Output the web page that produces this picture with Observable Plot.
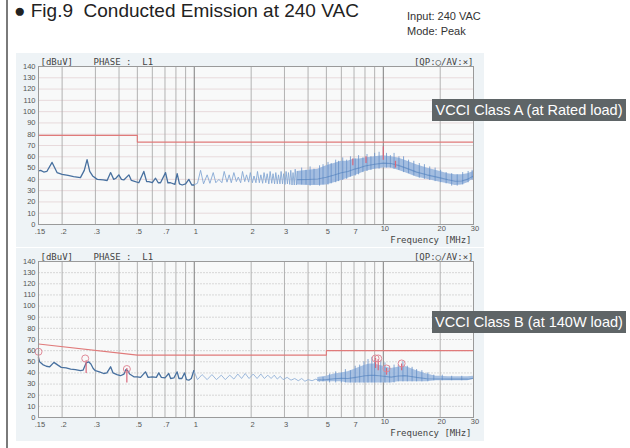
<!DOCTYPE html>
<html><head><meta charset="utf-8">
<script src="https://cdn.jsdelivr.net/npm/d3@7"></script>
<script src="https://cdn.jsdelivr.net/npm/@observablehq/plot@0.6"></script>
<style>
body{margin:0;background:#fff;}
#page{position:relative;width:630px;height:448px;overflow:hidden;font-family:"Liberation Sans",Arial,sans-serif;background:#fff;}
.abs{position:absolute;}
#border{left:6px;top:0;width:2px;height:448px;background:#7a7a7a;}
#title{left:14px;top:0px;font-size:19px;line-height:22px;color:#222;white-space:nowrap;}
#info{left:407px;top:9px;font-size:11px;line-height:15px;color:#333;}
.tag{background:#5f6567;color:#fff;font-size:14.5px;height:22px;line-height:22px;width:194px;text-align:center;left:432px;white-space:nowrap;}
</style></head><body>
<div id="page">
  <div id="border" class="abs"></div>
  <div id="title" class="abs">● Fig.9&nbsp; Conducted Emission at 240 VAC</div>
  <div id="info" class="abs">Input: 240 VAC<br>Mode: Peak</div>
  <div id="panelA" class="abs" style="left:16px;top:53px;"></div>
  <div id="panelB" class="abs" style="left:16px;top:248px;"></div>
  <div class="abs tag" style="top:99px;">VCCI Class A (at Rated load)</div>
  <div class="abs tag" style="top:311px;">VCCI Class B (at 140W load)</div>
</div>
<script>
// ---- axes ----
const xTicks = [0.15, 0.2, 0.3, 0.5, 0.7, 1, 2, 3, 5, 7, 10, 20, 30];
const xTickLabels = [".15", ".2", ".3", ".5", ".7", "1", "2", "3", "5", "7", "10", "20", "30"];
const yTicks = [0, 10, 20, 30, 40, 50, 60, 70, 80, 90, 100, 110, 120, 130, 140];
const hGrid = [10, 20, 30, 40, 50, 60, 70, 80, 90, 100, 110, 120, 130];
const vGrid = [0.2, 0.3, 0.4, 0.5, 0.6, 0.7, 0.8, 0.9, 2, 3, 4, 5, 6, 7, 8, 9, 20, 30];
const vGridMajor = [1, 10];

// ---- limits [MHz, dBuV] ----
const limitA = [[0.15, 79], [0.5, 79], [0.5, 73], [30, 73]];
const limitB = [[0.15, 66], [0.5, 56], [5, 56], [5, 60], [30, 60]];

// ---- panel A trace (Class A, rated load) ----
const traceA_low = [[0.150,47.5],[0.154,48],[0.160,46.5],[0.166,47],[0.177,55],[0.188,46],[0.200,44.5],[0.215,43.5],[0.230,42.5],[0.250,41.5],[0.262,48],[0.271,57.5],[0.280,47],[0.290,43],[0.307,40],[0.330,39.5],[0.346,39],[0.361,46],[0.375,40],[0.385,41],[0.399,44],[0.412,40],[0.424,39.5],[0.451,44],[0.465,39],[0.479,38.5],[0.509,37],[0.541,47],[0.560,38],[0.575,38],[0.600,37],[0.624,41],[0.645,37],[0.663,37],[0.705,46],[0.725,37],[0.749,37],[0.790,35.5],[0.812,45],[0.835,36],[0.863,35],[0.900,36],[0.936,40],[0.970,35],[0.994,35]];
const traceA_comb = [[0.994,35],[1.04,36.5],[1.08,48],[1.12,36],[1.17,44],[1.21,36.5],[1.26,46],[1.30,37],[1.35,40],[1.40,37],[1.44,47],[1.49,37.5],[1.53,44],[1.57,37],[1.62,46],[1.67,38],[1.71,42],[1.76,37],[1.80,47],[1.85,38],[1.89,44],[1.94,37.5],[1.98,46],[2.03,37],[2.07,43],[2.12,37],[2.16,47],[2.21,37],[2.25,44],[2.30,36.5],[2.34,46],[2.39,37],[2.43,45],[2.48,36],[2.52,47],[2.57,36.5],[2.61,45],[2.66,36],[2.70,46],[2.75,36],[2.79,44],[2.84,36],[2.88,47],[2.93,36],[2.97,45],[3.02,35.5],[3.06,47],[3.11,36],[3.15,46],[3.20,35.5],[3.24,48],[3.29,35],[3.33,46],[3.38,35],[3.42,49],[3.47,35],[3.51,47]];
const bandA_freq = [3.5, 4, 4.5, 5, 5.5, 6, 6.5, 7, 7.5, 8, 9, 10, 11, 12, 13, 15, 17, 20, 22, 24, 26, 28, 30];
const bandA_hi   = [47, 48, 49, 52, 54, 56, 56, 58, 58, 59, 60, 61, 60, 59, 57, 53, 50, 47, 45, 44, 44, 45, 47];
const bandA_lo   = [35, 34.5, 34.5, 35, 37, 39, 41, 43, 45, 47, 49, 50, 50, 48, 46, 42, 40, 37.5, 36, 34.5, 35, 37, 40.5];
const spikesA = [[3.7,35,50],[3.9,35,48],[4.1,34,51],[4.3,35,49],[4.6,34,52],[4.8,35,53],[5.1,35,55],[5.3,36,54],[5.6,37,57],[5.8,38,56],[6.1,39,59],[6.4,40,57],[6.7,42,60],[7.1,43,58],[7.4,44,61],[7.8,46,59],[8.2,47,62],[8.6,48,60],[9.0,49,63],[9.5,49,64],[10.4,50,63],[10.9,50,61],[11.4,49,63],[12.1,48,60],[12.8,46,60],[13.6,45,57],[14.5,43,56],[15.5,41,54],[16.5,40,53],[17.6,39,51],[18.8,38,50],[20.1,37,48],[21.5,36,46],[23.0,34,45],[24.6,34,44],[26.3,35,46],[28.1,37,47],[29.5,39,48]];
const marksA = [[6.9, 52, 58], [8.1, 54, 60], [10.0, 57, 69], [11.6, 50, 56]];

// ---- panel B trace (Class B, 140W load) ----
const traceB_low = [[0.150,54],[0.152,50],[0.158,47.5],[0.165,46],[0.172,45.5],[0.181,49.5],[0.190,47],[0.198,45],[0.210,44.5],[0.222,43.5],[0.235,43],[0.250,42],[0.258,42.5],[0.268,49],[0.276,50],[0.284,48],[0.292,44],[0.300,42],[0.315,41],[0.332,39.5],[0.345,40],[0.361,45.5],[0.372,40],[0.390,38.5],[0.407,37.5],[0.425,39],[0.435,43],[0.445,42],[0.455,39],[0.479,36.5],[0.500,36.5],[0.520,36],[0.552,41],[0.570,36],[0.600,36.5],[0.630,36],[0.649,40],[0.670,36],[0.700,35.5],[0.733,39.5],[0.750,35],[0.780,35.5],[0.812,41],[0.830,35],[0.860,35],[0.888,40],[0.910,34],[0.936,33.5],[0.965,35],[0.994,42]];
const traceB_ripple = [[0.994,42],[1.04,34],[1.10,38.5],[1.17,34],[1.24,38.5],[1.31,34],[1.39,38],[1.46,34],[1.54,38],[1.62,34.5],[1.70,39],[1.78,35],[1.86,39.5],[1.95,35],[2.05,39],[2.15,35],[2.25,39],[2.35,35],[2.45,38],[2.55,35],[2.65,38],[2.75,34.5],[2.85,37],[2.95,34],[3.10,36],[3.25,33.5],[3.40,35],[3.55,33],[3.70,35],[3.85,32.5],[4.00,34],[4.20,33],[4.40,34.5],[4.60,32.5],[4.80,35]];
const bandB_freq = [4.5, 5, 5.5, 6, 6.5, 7, 7.5, 8, 8.5, 9, 9.5, 10, 11, 12, 13, 14, 15, 17, 19, 20, 22, 25, 28, 30];
const bandB_hi   = [36, 37, 39, 40, 41, 43, 45, 47, 48, 48, 47, 46, 44, 45, 46, 44, 42, 39, 37, 37, 36.5, 36.5, 36.5, 37];
const bandB_lo   = [32, 32, 32, 32, 31, 31, 31, 31, 31, 31, 31, 31, 31, 32, 32, 32, 32, 32, 33, 33, 33, 33, 33, 34];
const spikesB = [[4.8,32,36],[5.2,31,39],[5.6,31,41],[6.0,31,40],[6.3,31,43],[6.7,31,42],[7.1,31,46],[7.5,31,47],[7.9,31,50],[8.3,31,52],[8.7,31,54],[9.0,31,51],[9.7,31,51],[10.2,31,49],[10.8,31,46],[11.4,31,47],[12.0,32,47],[12.7,32,50],[13.4,32,46],[14.2,32,45],[15.0,32,43],[16.0,32,42],[17.2,32,40],[18.5,33,38],[20.5,33,38],[23,33,37],[26,33,37]];
const circlesB = [[0.15, 59], [0.265, 53], [0.44, 43.5], [9.1, 53], [9.4, 53], [10.4, 44], [12.5, 48.5]];
const marksB = [[0.15, 50, 59], [0.268, 39.5, 51], [0.44, 31, 44], [9.1, 44, 53], [9.4, 42, 52], [10.4, 38, 44], [12.5, 42, 48]];

const mono = "'DejaVu Sans Mono', monospace";
const xLabelsLow = xTicks.map((t, i) => ({t, label: xTickLabels[i]})).filter(d => d.t < 10);
const xLabelsHigh = xTicks.map((t, i) => ({t, label: xTickLabels[i]})).filter(d => d.t >= 10);

function band(freq, lo, hi) {
  return freq.map((f, i) => ({f, lo: lo[i], hi: hi[i]}));
}

function panel({height, marginBottom, limit, low, mid, bandData, spikes, bandFill, midColor, circles, marks, gridColor, gridDash, freqDy}) {
  const lbl = {x: "t", text: "label", frameAnchor: "bottom", dx: 1.5, lineAnchor: "middle", fontSize: 7.5, fill: "#555"};
  return Plot.plot({
    width: 468, height,
    marginLeft: 22, marginRight: 11, marginTop: 13, marginBottom,
    x: {type: "log", domain: [0.15, 30], axis: null},
    y: {domain: [0, 140], axis: null},
    style: {background: "#eef3f6", fontFamily: "'Liberation Sans', Arial, sans-serif", overflow: "visible"},
    marks: [
      Plot.frame({fill: "#f8f9f9", stroke: "none"}),
      Plot.ruleY(hGrid, {stroke: gridColor, strokeWidth: 0.8, strokeDasharray: gridDash}),
      Plot.ruleX(vGrid, {stroke: "#aaaaaa", strokeWidth: 0.9}),
      Plot.ruleX(vGridMajor, {stroke: "#7e7e7e", strokeWidth: 1}),
      Plot.line(limit, {x: d => d[0], y: d => d[1], stroke: "#e07a7a", strokeWidth: 1.1}),
      Plot.areaY(bandData, {x: "f", y1: "lo", y2: "hi", fill: bandFill, fillOpacity: 0.85}),
      Plot.ruleX(spikes, {x: d => d[0], y1: d => d[1], y2: d => d[2], stroke: "#6790c8", strokeWidth: 0.8}),
      Plot.line(bandData, {x: "f", y: d => (d.lo * 0.6 + d.hi * 0.4), stroke: "#4f7fbd", strokeWidth: 1.1, strokeOpacity: 0.6}),
      Plot.line(mid, {x: d => d[0], y: d => d[1], stroke: midColor, strokeWidth: 0.9}),
      Plot.line(low, {x: d => d[0], y: d => d[1], stroke: "#47709f", strokeWidth: 1.3}),
      Plot.ruleX(marks, {x: d => d[0], y1: d => d[1], y2: d => d[2], stroke: "#d8667a", strokeWidth: 1.2}),
      Plot.dot(circles, {x: d => d[0], y: d => d[1], r: 3.5, stroke: "#e08a98", strokeWidth: 1, fill: "none"}),
      Plot.frame({stroke: "#9a9a9a"}),
      Plot.axisY(yTicks, {tickSize: 0, tickPadding: 3, fontSize: 7.5, fill: "#555", label: null}),
      Plot.text(xLabelsLow, {...lbl, dy: 7.5}),
      Plot.text(xLabelsHigh, {...lbl, dy: 4}),
      Plot.text(["[dBuV]"], {frameAnchor: "top-left", dx: 2, dy: -2, lineAnchor: "bottom", textAnchor: "start", fontFamily: mono, fontSize: 9, fill: "#444"}),
      Plot.text(["PHASE :  L1"], {frameAnchor: "top-left", dx: 55, dy: -2, lineAnchor: "bottom", textAnchor: "start", fontFamily: mono, fontSize: 9, fill: "#444"}),
      Plot.text(["[QP:○/AV:×]"], {frameAnchor: "top-right", dx: 0, dy: -2, lineAnchor: "bottom", textAnchor: "end", fontFamily: mono, fontSize: 9, fill: "#444"}),
      Plot.text(["Frequency [MHz]"], {frameAnchor: "bottom-right", dx: -2, dy: freqDy, lineAnchor: "middle", textAnchor: "end", fontFamily: mono, fontSize: 9, fill: "#444"})
    ]
  });
}

document.getElementById("panelA").append(panel({
  height: 194, marginBottom: 23, limit: limitA, low: traceA_low, mid: traceA_comb,
  bandData: band(bandA_freq, bandA_lo, bandA_hi), spikes: spikesA, bandFill: "#94b3dc", midColor: "#86a8d4",
  circles: [], marks: marksA, gridColor: "#e3d2d4", gridDash: null, freqDy: 15.5
}));
document.getElementById("panelB").append(panel({
  height: 193, marginBottom: 24, limit: limitB, low: traceB_low, mid: traceB_ripple,
  bandData: band(bandB_freq, bandB_lo, bandB_hi), spikes: spikesB, bandFill: "#9ab7de", midColor: "#92b1d8",
  circles: circlesB, marks: marksB, gridColor: "#cfcfcf", gridDash: "2,1", freqDy: 16
}));
</script>
</body></html>
